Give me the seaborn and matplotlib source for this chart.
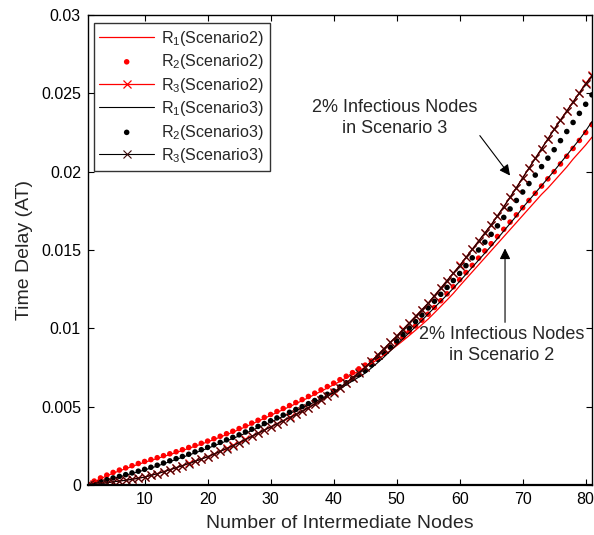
import numpy as np
import pandas as pd
import matplotlib
matplotlib.use("Agg")
import matplotlib.pyplot as plt
import seaborn as sns

nodes = list(range(1, 82))

r1_s2 = [0.00003, 0.00020, 0.00040, 0.00058, 0.00075, 0.00090, 0.00104, 0.00118, 0.00132, 0.00145,
         0.00157, 0.00169, 0.00182, 0.00194, 0.00207, 0.00220, 0.00234, 0.00247, 0.00261, 0.00275,
         0.00290, 0.00306, 0.00321, 0.00337, 0.00354, 0.00371, 0.00389, 0.00407, 0.00425, 0.00444,
         0.00463, 0.00481, 0.00500, 0.00519, 0.00538, 0.00557, 0.00578, 0.00598, 0.00619, 0.00640,
         0.00661, 0.00683, 0.00705, 0.00728, 0.00751, 0.00776, 0.00802, 0.00829, 0.00858, 0.00889,
         0.00921, 0.00954, 0.00988, 0.01023, 0.01059, 0.01099, 0.01140, 0.01181, 0.01223, 0.01270,
         0.01315, 0.01360, 0.01405, 0.01450, 0.01495, 0.01540, 0.01585, 0.01630, 0.01675, 0.01720,
         0.01765, 0.01810, 0.01855, 0.01895, 0.01940, 0.01985, 0.02030, 0.02080, 0.02125, 0.02170,
         0.02220]

r2_s2 = [0.00005, 0.00025, 0.00045, 0.00063, 0.00080, 0.00095, 0.00109, 0.00123, 0.00137, 0.00150,
         0.00162, 0.00174, 0.00187, 0.00199, 0.00212, 0.00225, 0.00239, 0.00252, 0.00266, 0.00280,
         0.00295, 0.00311, 0.00327, 0.00343, 0.00360, 0.00377, 0.00395, 0.00413, 0.00431, 0.00450,
         0.00469, 0.00488, 0.00507, 0.00526, 0.00545, 0.00565, 0.00586, 0.00607, 0.00628, 0.00650,
         0.00672, 0.00694, 0.00717, 0.00741, 0.00765, 0.00791, 0.00818, 0.00847, 0.00878, 0.00910,
         0.00944, 0.00979, 0.01015, 0.01052, 0.01090, 0.01133, 0.01176, 0.01220, 0.01265, 0.01310,
         0.01356, 0.01402, 0.01448, 0.01494, 0.01540, 0.01586, 0.01632, 0.01678, 0.01724, 0.01770,
         0.01816, 0.01862, 0.01908, 0.01954, 0.02000, 0.02049, 0.02098, 0.02148, 0.02199, 0.02250,
         0.02300]

r3_s2 = [0.00000, 0.00004, 0.00009, 0.00015, 0.00021, 0.00026, 0.00031, 0.00037, 0.00044, 0.00051,
         0.00062, 0.00073, 0.00085, 0.00098, 0.00111, 0.00124, 0.00138, 0.00152, 0.00166, 0.00181,
         0.00198, 0.00215, 0.00233, 0.00252, 0.00271, 0.00291, 0.00311, 0.00331, 0.00351, 0.00371,
         0.00391, 0.00411, 0.00431, 0.00451, 0.00471, 0.00494, 0.00517, 0.00541, 0.00566, 0.00591,
         0.00622, 0.00653, 0.00685, 0.00718, 0.00751, 0.00791, 0.00831, 0.00871, 0.00911, 0.00951,
         0.00993, 0.01035, 0.01077, 0.01119, 0.01161, 0.01209, 0.01257, 0.01305, 0.01353, 0.01401,
         0.01453, 0.01505, 0.01557, 0.01609, 0.01661, 0.01719, 0.01777, 0.01837, 0.01898, 0.01961,
         0.02023, 0.02085, 0.02147, 0.02209, 0.02271, 0.02330, 0.02388, 0.02446, 0.02504, 0.02563,
         0.02614]

r1_s3 = [0.00000, 0.00009, 0.00020, 0.00032, 0.00042, 0.00052, 0.00063, 0.00073, 0.00084, 0.00096,
         0.00108, 0.00121, 0.00135, 0.00149, 0.00163, 0.00177, 0.00191, 0.00205, 0.00219, 0.00234,
         0.00250, 0.00265, 0.00281, 0.00297, 0.00313, 0.00330, 0.00348, 0.00366, 0.00384, 0.00402,
         0.00420, 0.00438, 0.00456, 0.00474, 0.00492, 0.00511, 0.00530, 0.00550, 0.00570, 0.00590,
         0.00614, 0.00639, 0.00664, 0.00689, 0.00714, 0.00747, 0.00781, 0.00817, 0.00856, 0.00895,
         0.00933, 0.00972, 0.01011, 0.01050, 0.01092, 0.01132, 0.01173, 0.01214, 0.01256, 0.01300,
         0.01345, 0.01390, 0.01435, 0.01480, 0.01525, 0.01573, 0.01621, 0.01669, 0.01717, 0.01770,
         0.01817, 0.01864, 0.01911, 0.01958, 0.02005, 0.02055, 0.02105, 0.02155, 0.02205, 0.02260,
         0.02320]

r2_s3 = [0.00000, 0.00010, 0.00022, 0.00034, 0.00045, 0.00055, 0.00066, 0.00077, 0.00088, 0.00100,
         0.00113, 0.00126, 0.00140, 0.00154, 0.00168, 0.00182, 0.00196, 0.00211, 0.00225, 0.00240,
         0.00256, 0.00272, 0.00288, 0.00304, 0.00320, 0.00338, 0.00356, 0.00374, 0.00392, 0.00410,
         0.00428, 0.00446, 0.00464, 0.00482, 0.00500, 0.00519, 0.00539, 0.00559, 0.00579, 0.00600,
         0.00626, 0.00652, 0.00678, 0.00704, 0.00730, 0.00766, 0.00802, 0.00840, 0.00880, 0.00920,
         0.00961, 0.01002, 0.01043, 0.01085, 0.01130, 0.01173, 0.01217, 0.01261, 0.01305, 0.01350,
         0.01400, 0.01450, 0.01500, 0.01550, 0.01600, 0.01654, 0.01708, 0.01762, 0.01816, 0.01870,
         0.01924, 0.01978, 0.02032, 0.02086, 0.02140, 0.02198, 0.02256, 0.02314, 0.02372, 0.02430,
         0.02490]

r3_s3 = [0.00000, 0.00003, 0.00008, 0.00014, 0.00020, 0.00025, 0.00030, 0.00036, 0.00043, 0.00050,
         0.00061, 0.00072, 0.00084, 0.00097, 0.00110, 0.00123, 0.00137, 0.00151, 0.00165, 0.00180,
         0.00197, 0.00214, 0.00232, 0.00251, 0.00270, 0.00290, 0.00310, 0.00330, 0.00350, 0.00370,
         0.00390, 0.00410, 0.00430, 0.00450, 0.00470, 0.00493, 0.00516, 0.00540, 0.00565, 0.00590,
         0.00621, 0.00652, 0.00684, 0.00717, 0.00750, 0.00790, 0.00830, 0.00870, 0.00910, 0.00950,
         0.00992, 0.01034, 0.01076, 0.01118, 0.01160, 0.01208, 0.01256, 0.01304, 0.01352, 0.01400,
         0.01452, 0.01504, 0.01556, 0.01608, 0.01660, 0.01718, 0.01776, 0.01836, 0.01897, 0.01960,
         0.02022, 0.02084, 0.02146, 0.02208, 0.02270, 0.02328, 0.02386, 0.02444, 0.02502, 0.02560,
         0.02610]

labels = ["R$_1$(Scenario2)", "R$_2$(Scenario2)", "R$_3$(Scenario2)",
          "R$_1$(Scenario3)", "R$_2$(Scenario3)", "R$_3$(Scenario3)"]
x_ticks = [10, 20, 30, 40, 50, 60, 70, 80]
y_ticks = [0, 0.005, 0.01, 0.015, 0.02, 0.025, 0.03]
y_tick_labels = ["0", "0.005", "0.01", "0.015", "0.02", "0.025", "0.03"]

sns.set_style("white")
plt.rcParams['font.family'] = ['Liberation Sans', 'DejaVu Sans']
plt.rcParams['mathtext.fontset'] = 'custom'
plt.rcParams['mathtext.rm'] = 'Liberation Sans'
plt.rcParams['mathtext.it'] = 'Liberation Sans'

fig = plt.figure(figsize=(5.94, 5.35), dpi=100)
ax = fig.add_axes([0.148, 0.0935, 0.8486, 0.8785])

red = "#ff0000"
# Scenario 2
sns.lineplot(x=nodes, y=r1_s2, ax=ax, color=red, lw=0.9, label=labels[0])
sns.scatterplot(x=nodes, y=r2_s2, ax=ax, color=red, s=16, edgecolor='none', marker='o', label=labels[1])
sns.lineplot(x=nodes, y=r3_s2, ax=ax, color=red, lw=0.9, marker='x', markersize=6,
             markeredgewidth=0.9, markeredgecolor=red, label=labels[2])
# Scenario 3
sns.lineplot(x=nodes, y=r1_s3, ax=ax, color='black', lw=0.8, label=labels[3])
sns.scatterplot(x=nodes, y=r2_s3, ax=ax, color='black', s=16, edgecolor='none', marker='o', label=labels[4])
sns.lineplot(x=nodes, y=r3_s3, ax=ax, color='black', lw=0.8, marker='x', markersize=6,
             markeredgewidth=0.8, markeredgecolor='#3a0a0a', label=labels[5])

ax.set_xlim(1, 81)
ax.set_ylim(0, 0.03)
ax.set_xticks(x_ticks)
ax.set_yticks(y_ticks)
ax.set_yticklabels(y_tick_labels)
ax.tick_params(direction='in', length=4, width=0.8, labelsize=11.5, top=True, right=True,
               bottom=True, left=True, colors='black', pad=5)
for sp in ax.spines.values():
    sp.set_visible(True)
    sp.set_color('black')
    sp.set_linewidth(1.0)
ax.spines['bottom'].set_linewidth(1.6)
ax.set_xlabel("Number of Intermediate Nodes", fontsize=14, labelpad=6)
ax.set_ylabel("Time Delay (AT)", fontsize=14, labelpad=6)

leg = ax.legend(loc='upper left', bbox_to_anchor=(0.005, 0.99), fontsize=11.6, frameon=True,
                fancybox=False, edgecolor='black', handlelength=3.4, handletextpad=0.45,
                labelspacing=0.28, borderpad=0.35, borderaxespad=0.2, markerscale=1.0)
leg.get_frame().set_linewidth(1.0)

# annotation texts
ax.text(49.7, 0.02345, "2% Infectious Nodes\nin Scenario 3", fontsize=13, ha='center',
        va='center', linespacing=1.3)
ax.text(66.6, 0.00895, "2% Infectious Nodes\nin Scenario 2", fontsize=13, ha='center',
        va='center', linespacing=1.3)
# arrows
ax.annotate("", xy=(68.0, 0.01975), xytext=(63.2, 0.0223),
            arrowprops=dict(arrowstyle='-|>', color='black', lw=0.8, mutation_scale=16,
                            shrinkA=0, shrinkB=0))
ax.annotate("", xy=(67.2, 0.0151), xytext=(67.2, 0.01038),
            arrowprops=dict(arrowstyle='-|>', color='black', lw=0.8, mutation_scale=16,
                            shrinkA=0, shrinkB=0))

fig.savefig("out.png", dpi=100)
